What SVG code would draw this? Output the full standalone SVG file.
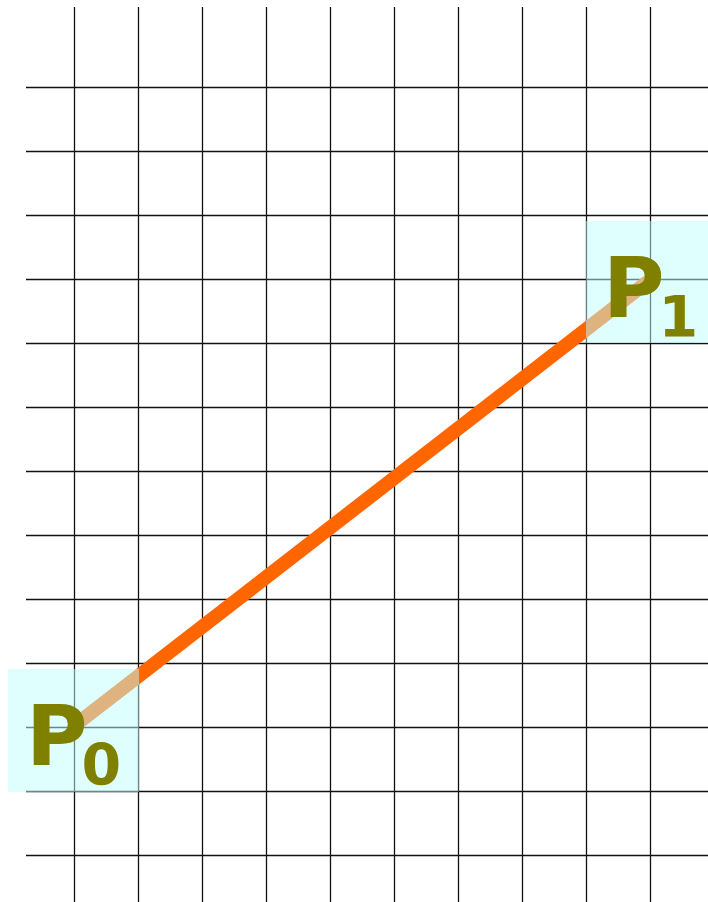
<svg xmlns="http://www.w3.org/2000/svg" width="708" height="902" viewBox="0 0 708 902">
  <style>
    .grid line { stroke: #111; stroke-width: 1.3; }
    .box { fill: #C0FFFF; fill-opacity: 0.5; }
    .lbl { font-family: "DejaVu Sans", Verdana, sans-serif; font-weight: bold; fill: #808000; font-size: 84px; letter-spacing: -6px; }
    .sub { font-size: 57px; letter-spacing: 0; }
  </style>
  <rect width="708" height="902" fill="#ffffff"/>
  <g id="grid" class="grid">
    <line x1="74.5" y1="7" x2="74.5" y2="902"/>
    <line x1="138.5" y1="7" x2="138.5" y2="902"/>
    <line x1="202.5" y1="7" x2="202.5" y2="902"/>
    <line x1="266.5" y1="7" x2="266.5" y2="902"/>
    <line x1="330.5" y1="7" x2="330.5" y2="902"/>
    <line x1="394.5" y1="7" x2="394.5" y2="902"/>
    <line x1="458.5" y1="7" x2="458.5" y2="902"/>
    <line x1="522.5" y1="7" x2="522.5" y2="902"/>
    <line x1="586.5" y1="7" x2="586.5" y2="902"/>
    <line x1="650.5" y1="7" x2="650.5" y2="902"/>
    <line x1="26" y1="87.5" x2="708" y2="87.5"/>
    <line x1="26" y1="151.5" x2="708" y2="151.5"/>
    <line x1="26" y1="215.5" x2="708" y2="215.5"/>
    <line x1="26" y1="279.5" x2="708" y2="279.5"/>
    <line x1="26" y1="343.5" x2="708" y2="343.5"/>
    <line x1="26" y1="407.5" x2="708" y2="407.5"/>
    <line x1="26" y1="471.5" x2="708" y2="471.5"/>
    <line x1="26" y1="535.5" x2="708" y2="535.5"/>
    <line x1="26" y1="599.5" x2="708" y2="599.5"/>
    <line x1="26" y1="663.5" x2="708" y2="663.5"/>
    <line x1="26" y1="727.5" x2="708" y2="727.5"/>
    <line x1="26" y1="791.5" x2="708" y2="791.5"/>
    <line x1="26" y1="855.5" x2="708" y2="855.5"/>
  </g>
  <g id="connectors">
    <line x1="74" y1="726" x2="650" y2="280" stroke="#FF6600" stroke-width="14" stroke-linecap="butt"/>
  </g>
  <g id="P0">
    <rect class="box" x="8" y="669" width="131" height="123"/>
    <text class="lbl" x="26" y="765">P<tspan class="sub" dy="20">0</tspan></text>
  </g>
  <g id="P1">
    <rect class="box" x="586" y="221" width="130" height="122"/>
    <text class="lbl" x="603" y="317">P<tspan class="sub" dy="20">1</tspan></text>
  </g>
</svg>
